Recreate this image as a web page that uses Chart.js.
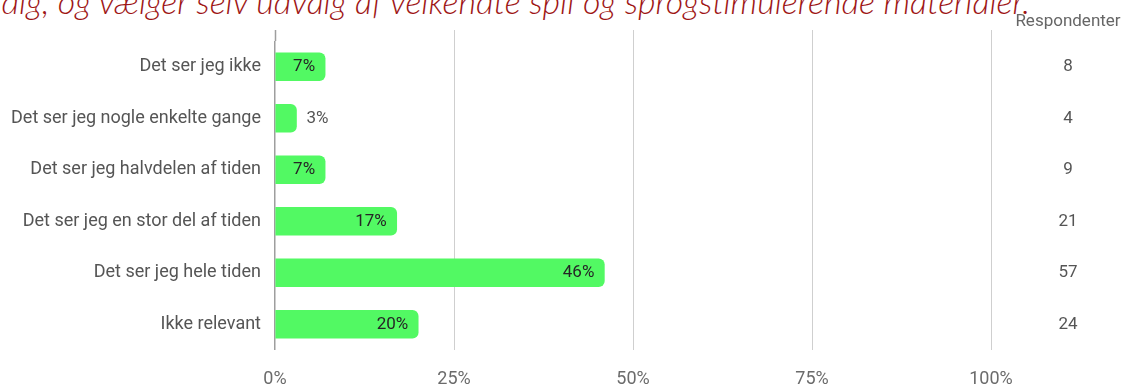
<!DOCTYPE html>
<html>
<head>
<meta charset="utf-8">
<script src="https://cdn.jsdelivr.net/npm/chart.js@4.4.1/dist/chart.umd.min.js"></script>
<style>
  html, body { margin: 0; padding: 0; background: #fff; }
  #wrap { position: relative; width: 1136px; height: 387px; overflow: hidden; }
  #heading {
    position: absolute; right: 106px; top: -20px; white-space: nowrap;
    font: italic 300 34px Lato, "Open Sans", sans-serif; color: #9e1616;
  }
  #chartBox { position: absolute; left: 0; top: 0; width: 1136px; height: 387px; }
</style>
</head>
<body>
<div id="wrap">
  <div id="heading">selvstændig, og vælger selv udvalg af velkendte spil og sprogstimulerende materialer.</div>
  <div id="chartBox"><canvas id="myChart"></canvas></div>
</div>
<script>
const categories = [
  'Det ser jeg ikke',
  'Det ser jeg nogle enkelte gange',
  'Det ser jeg halvdelen af tiden',
  'Det ser jeg en stor del af tiden',
  'Det ser jeg hele tiden',
  'Ikke relevant'
];
const percentages = [7, 3, 7, 17, 46, 20];
const respondents = [8, 4, 9, 21, 57, 24];
const xTicks = [0, 25, 50, 75, 100];
const countHeader = 'Respondenter';

const barGreen = '#52f963';
const gridGrey = '#cfcfcf';
const zeroGrey = '#9e9e9e';

// grid lines poke out above the plot, bar value labels and the count column
const extrasPlugin = {
  id: 'extras',
  beforeDatasetsDraw(chart) {
    const { ctx, chartArea, scales } = chart;
    ctx.save();
    scales.x.ticks.forEach(t => {
      const x = Math.round(scales.x.getPixelForValue(t.value)) + 0.5;
      ctx.strokeStyle = t.value === 0 ? zeroGrey : gridGrey;
      ctx.lineWidth = t.value === 0 ? 1.5 : 1;
      ctx.beginPath();
      ctx.moveTo(x, chartArea.top - 11);
      ctx.lineTo(x, chartArea.top);
      ctx.stroke();
    });
    ctx.restore();
  },
  afterDatasetsDraw(chart) {
    const { ctx, chartArea } = chart;
    const meta = chart.getDatasetMeta(0);
    ctx.save();
    ctx.font = '17px Roboto';
    ctx.textBaseline = 'middle';
    meta.data.forEach((bar, i) => {
      const txt = percentages[i] + '%';
      const w = ctx.measureText(txt).width;
      if (bar.x - bar.base > w + 18) {
        ctx.textAlign = 'right';
        ctx.fillStyle = '#262626';
        ctx.fillText(txt, bar.x - 10, bar.y);
      } else {
        ctx.textAlign = 'left';
        ctx.fillStyle = '#555';
        ctx.fillText(txt, bar.x + 10, bar.y);
      }
      // respondent count on the right
      ctx.textAlign = 'center';
      ctx.fillStyle = '#555';
      ctx.fillText(String(respondents[i]), chartArea.right + 77, bar.y);
    });
    ctx.fillStyle = '#666';
    ctx.textAlign = 'center';
    ctx.fillText(countHeader, chartArea.right + 77, chartArea.top - 19);
    ctx.restore();
  }
};

const myChart = new Chart(document.getElementById('myChart'), {
  type: 'bar',
  data: {
    labels: categories,
    datasets: [{
      data: percentages,
      backgroundColor: barGreen,
      borderWidth: 0,
      borderRadius: 6,
      barThickness: 28
    }]
  },
  options: {
    indexAxis: 'y',
    responsive: true,
    maintainAspectRatio: false,
    animation: false,
    layout: { padding: { top: 41, right: 145, bottom: 0, left: 0 } },
    plugins: {
      legend: { display: false },
      tooltip: { enabled: false }
    },
    scales: {
      x: {
        min: 0,
        max: 100,
        afterBuildTicks: axis => { axis.ticks = xTicks.map(v => ({ value: v })); },
        afterFit: axis => { axis.height = 37; },
        border: { display: false },
        grid: {
          drawTicks: false,
          color: c => (c.tick && c.tick.value === 0 ? zeroGrey : gridGrey),
          lineWidth: c => (c.tick && c.tick.value === 0 ? 1.5 : 1)
        },
        ticks: {
          padding: 19,
          color: '#6b6b6b',
          font: { family: 'Roboto', size: 18 },
          callback: v => v + '%'
        }
      },
      y: {
        afterFit: axis => { axis.width = 275; },
        border: { display: false },
        grid: { display: false, drawTicks: false },
        ticks: {
          padding: 14,
          color: '#555',
          font: { family: 'Roboto', size: 18 }
        }
      }
    }
  },
  plugins: [extrasPlugin]
});
</script>
</body>
</html>
